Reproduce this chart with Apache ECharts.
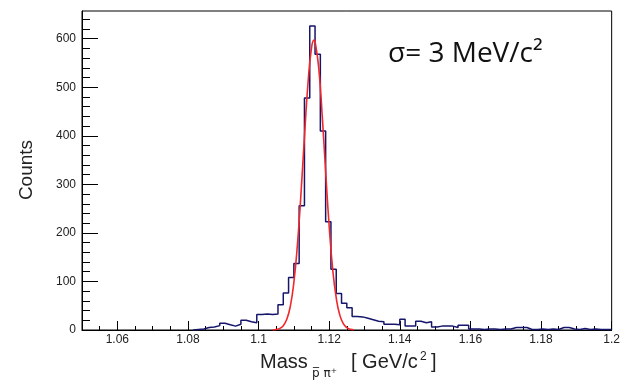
<!DOCTYPE html>
<html><head><meta charset="utf-8">
<script src="https://cdn.jsdelivr.net/npm/echarts@6/dist/echarts.min.js"></script>
<style>html,body{margin:0;padding:0;background:#fff}#c{width:623px;height:380px}</style>
</head><body><div id="c"></div>
<script>
// ---- data ----
const binLow = 1.05;
const binWidth = 0.0015;
const counts = [
  0,0,0,0,0,0,0,0,0,0,
  0,0,0,0,0,0,0,0,0,0,
  0,1,2,5,6,9,14,11,8,12,
  20,17,15,32,33,32,33,52,76,108,
  137,256,478,626,568,410,223,125,75,55,
  46,28,27,24,21,18,17,12,12,11,
  22,8,8,18,15,17,6,8,8,8,
  5,10,10,2,2,1,2,2,1,2,
  2,5,5,5,1,1,2,1,2,1,
  5,5,2,1,3,1,2,1,1,1
];
const fitX = [1.104,1.105,1.106,1.107,1.108,1.109,1.110,1.111,1.112,1.113,1.114,1.115,1.1157,1.116,1.117,1.118,1.119,1.120,1.121,1.122,1.123,1.124,1.125,1.126,1.127];
const fitY = [0.3,1.2,3.2,8.9,22,49,98,175,279,398,508,581,597,594,543,445,326,214,125,66,31,13,4.9,1.6,0.5];
const xTickLabels = [1.06,1.08,1.1,1.12,1.14,1.16,1.18,1.2];
const xMinorTicks = [1.055,1.06,1.065,1.07,1.075,1.08,1.085,1.09,1.095,1.1,1.105,1.11,1.115,1.12,1.125,1.13,1.135,1.14,1.145,1.15,1.155,1.16,1.165,1.17,1.175,1.18,1.185,1.19,1.195];
const yTickLabels = [0,100,200,300,400,500,600];
const yMinorTicks = [20,40,60,80,120,140,160,180,220,240,260,280,320,340,360,380,420,440,460,480,520,540,560,580,620,640];
const xRange = [1.05, 1.2];
const yRange = [0, 657];

// ---- build ----
const first = counts.findIndex(v => v > 0);
const hist = [[+(binLow + first * binWidth).toFixed(5), 0]];
for (let i = first; i < counts.length; i++) hist.push([+(binLow + i * binWidth).toFixed(5), counts[i]]);
hist.push([+(binLow + counts.length * binWidth).toFixed(5), counts[counts.length - 1]]);
const fit = fitX.map((x, i) => [x, fitY[i]]);

const lab = { fontFamily: 'Liberation Sans', fontSize: 12, color: '#222' };
const T = (x, y, text, font, extra) => ({ type: 'text', x, y, silent: true,
  style: Object.assign({ text, font, fill: '#222', align: 'left', verticalAlign: 'middle' }, extra || {}) });
const chart = echarts.init(document.getElementById('c'), null, { renderer: 'canvas' });
chart.setOption({
  animation: false,
  backgroundColor: '#fff',
  grid: { left: 82, right: 10, top: 11, bottom: 50, show: true, borderColor: '#000', borderWidth: 1, backgroundColor: 'transparent' },
  xAxis: [
    { type: 'value', min: xRange[0], max: xRange[1], position: 'bottom',
      axisLine: { show: true, lineStyle: { color: '#000', width: 1 } },
      axisTick: { show: true, inside: true, length: 9, customValues: xTickLabels, lineStyle: { color: '#000' } },
      axisLabel: Object.assign({ margin: 4, customValues: xTickLabels, showMinLabel: true, showMaxLabel: true }, lab),
      splitLine: { show: false } },
    { type: 'value', min: xRange[0], max: xRange[1], position: 'bottom', offset: 0,
      axisLine: { show: false },
      axisTick: { show: true, inside: true, length: 4, customValues: xMinorTicks, lineStyle: { color: '#000' } },
      axisLabel: { show: false }, splitLine: { show: false } }
  ],
  yAxis: [
    { type: 'value', min: yRange[0], max: yRange[1], position: 'left',
      axisLine: { show: true, lineStyle: { color: '#000', width: 1 } },
      axisTick: { show: true, inside: true, length: 16, customValues: yTickLabels, lineStyle: { color: '#000' } },
      axisLabel: Object.assign({ margin: 6, customValues: yTickLabels }, lab),
      splitLine: { show: false } },
    { type: 'value', min: yRange[0], max: yRange[1], position: 'left', offset: 0,
      axisLine: { show: false },
      axisTick: { show: true, inside: true, length: 8, customValues: yMinorTicks, lineStyle: { color: '#000' } },
      axisLabel: { show: false }, splitLine: { show: false } }
  ],
  series: [
    { type: 'line', data: hist, step: 'end', xAxisIndex: 0, yAxisIndex: 0, symbol: 'none', z: 2,
      lineStyle: { color: '#15156b', width: 1.5 } },
    { type: 'line', data: fit, smooth: true, xAxisIndex: 0, yAxisIndex: 0, symbol: 'none', z: 3,
      lineStyle: { color: '#f0282c', width: 1.6 } }
  ],
  graphic: [
    T(27, 170, 'Counts', '19px "Liberation Sans"', { align: 'center' }),
    T(260, 362, 'Mass', '20px "Liberation Sans"'),
    T(312, 374, 'p\u0305 \u03c0\u207a', '12px "DejaVu Sans"'),
    T(351, 362, '[ GeV/c', '20px "Liberation Sans"'),
    T(420, 357, '2', '12px "Liberation Sans"'),
    T(431, 362, ']', '20px "Liberation Sans"'),
    T(388, 54, '\u03c3= 3 MeV/c\u00b2', '28px "Open Sans"', { fill: '#111' })
  ].map((g, i) => i === 0 ? Object.assign(g, { rotation: Math.PI / 2 }) : g)
});
</script></body></html>
